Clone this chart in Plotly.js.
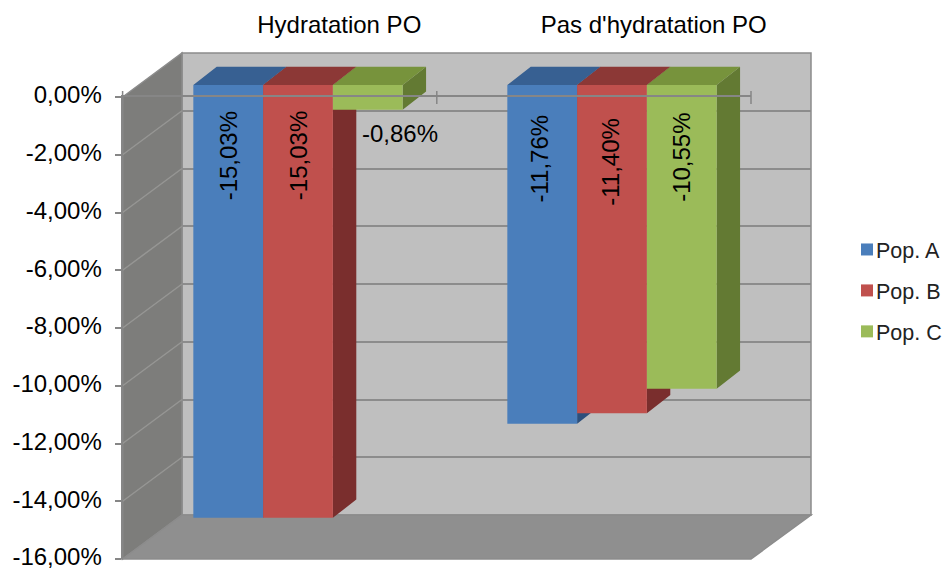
<!DOCTYPE html>
<html>
<head>
<meta charset="utf-8">
<script src="https://cdn.plot.ly/plotly-3.0.1.min.js"></script>
<style>html,body{margin:0;padding:0;background:#fff;overflow:hidden}#chart{width:945px;height:570px}</style>
</head>
<body>
<div id="chart"></div>
<script>
// ---- data ----
const categories = ["Hydratation PO", "Pas d'hydratation PO"];
const popA = [-15.03, -11.76];
const popB = [-15.03, -11.40];
const popC = [-0.86, -10.55];
const seriesNames = ["Pop. A", "Pop. B", "Pop. C"];
const yTickValues = [0, -2, -4, -6, -8, -10, -12, -14, -16];
const yTickLabels = ["0,00%", "-2,00%", "-4,00%", "-6,00%", "-8,00%", "-10,00%", "-12,00%", "-14,00%", "-16,00%"];

// ---- styles ----
const W = 945, H = 570;
const FONT = '"Liberation Sans", Arial, sans-serif';
const FS = 24;
const frontColors = ["#4A7EBB", "#C0504D", "#9BBB59"];
const topColors = ["#376092", "#8C3836", "#77933C"];
const sideColors = ["#2C4F7C", "#7A2E2D", "#637A33"];
const series = [popA, popB, popC];

// ---- oblique projection geometry (pixels) ----
const px = x => x / W, py = y => 1 - y / H;
const front = {l: 122.6, r: 751, zero: 97, bottom: 559};
const back = {l: 182, r: 811, zero: 53, bottom: 515};
const barPlane = {l: 141, r: 769, zero: 85, perUnit: 28.8};
const depthX = 23.4, depthY = 18.3;
const catPx = (barPlane.r - barPlane.l) / 2;
const dX = depthX / catPx, dY = depthY / barPlane.perUnit;
const slot = 2 / 9;

const frontY = v => front.zero + (front.bottom - front.zero) * (v / -16);
const backY = v => back.zero + (back.bottom - back.zero) * (v / -16);

// ---- depth faces of each bar, derived from the values ----
const faceTraces = [];
series.forEach((vals, s) => {
  const sx = [], sy = [], tx = [], ty = [];
  vals.forEach((v, c) => {
    const x0 = c + (s - 1.5) * slot, x1 = x0 + slot;
    sx.push(x1, x1 + dX, x1 + dX, x1, null);
    sy.push(0, dY, v + dY, v, null);
    tx.push(x0, x0 + dX, x1 + dX, x1, null);
    ty.push(0, dY, dY, 0, null);
  });
  [[sx, sy, sideColors[s], "side"], [tx, ty, topColors[s], "top"]].forEach(f => faceTraces.push({
    type: "scatter", mode: "lines", x: f[0], y: f[1], xaxis: "x2", yaxis: "y2",
    fill: "toself", fillcolor: f[2], line: {width: 0, color: f[2]},
    name: seriesNames[s] + " " + f[3], showlegend: false, hoverinfo: "skip"
  }));
});

const barTraces = series.map((vals, s) => ({
  type: "bar", x: categories, y: vals, name: seriesNames[s], xaxis: "x3", yaxis: "y3",
  marker: {color: frontColors[s], line: {width: 0}}, legendgroup: seriesNames[s]
}));

// Mark-free traces that make Plotly draw the back-wall and front axes.
const axisHolder = (xa, ya) => ({type: "scatter", mode: "none", x: [0, 1], y: [0, 0], xaxis: xa, yaxis: ya,
  showlegend: false, hoverinfo: "skip"});

// ---- value labels ----
const fmt = v => v.toFixed(2).replace(".", ",") + "%";
const labelSpots = [
  [{dx: 0, y: -2.47, a: -90}, {dx: -0.01, y: -2.55, a: -90}],
  [{dx: 0, y: -2.47, a: -90}, {dx: -0.005, y: -2.65, a: -90}],
  [{dx: 0.103, y: -1.7, a: 0}, {dx: -0.003, y: -2.5, a: -90}]
];
const annotations = [];
series.forEach((vals, s) => vals.forEach((v, c) => {
  const sp = labelSpots[s][c];
  annotations.push({
    text: fmt(v), x: c + (s - 1) * slot + sp.dx, y: sp.y, xref: "x3", yref: "y3",
    showarrow: false, textangle: sp.a, xanchor: "center", yanchor: "middle",
    font: {family: FONT, size: FS, color: "#000"}
  });
}));

// ---- walls and floor ----
const poly = pts => "M" + pts.map(p => px(p[0]) + "," + py(p[1])).join("L") + "Z";
const wall = (pts, fill) => ({type: "path", xref: "paper", yref: "paper", layer: "below",
  path: poly(pts), fillcolor: fill, line: {color: "#8C8C8C", width: 1.5}});
const seg = (x0, y0, x1, y1, color, width, layer) => ({type: "line", xref: "paper", yref: "paper", layer,
  x0: px(x0), y0: py(y0), x1: px(x1), y1: py(y1), line: {color, width}});

const shapes = [
  wall([[back.l, back.zero], [back.r, back.zero], [back.r, back.bottom], [back.l, back.bottom]], "#BFBFBF"),
  wall([[front.l, front.zero], [back.l, back.zero], [back.l, back.bottom], [front.l, front.bottom]], "#7D7D7B"),
  wall([[front.l, front.bottom], [back.l, back.bottom], [back.r, back.bottom], [front.r, front.bottom]], "#8F8F8F")
];
yTickValues.slice(1, -1).forEach(v => shapes.push(seg(front.l, frontY(v), back.l, backY(v), "#969694", 1.5, "below")));
[-0.5, 0.5, 1.5].forEach(k => {
  const x = front.l + (k + 0.5) * (front.r - front.l) / 2;
  shapes.push(seg(x, front.zero - 6, x, front.zero + 7, "#868686", 1.5, "above"));
});

const hidden = {visible: false, fixedrange: true};
const layout = {
  width: W, height: H, margin: {l: 0, r: 0, t: 0, b: 0, pad: 0, autoexpand: false},
  paper_bgcolor: "#fff", plot_bgcolor: "rgba(0,0,0,0)",
  font: {family: FONT, size: FS, color: "#000"},
  barmode: "group", bargap: 1 / 3, bargroupgap: 0, showlegend: true,
  hovermode: false,
  legend: {x: px(836), xanchor: "left", y: py(229), yanchor: "top", bgcolor: "rgba(0,0,0,0)",
    font: {family: FONT, size: 21.5, color: "#222"}, tracegroupgap: 10, itemclick: false},
  // back wall: gridlines and category labels
  xaxis: {domain: [px(back.l), px(back.r)], range: [-0.5, 1.5], anchor: "y", side: "top",
    tickmode: "array", tickvals: [0, 1], ticktext: categories, ticks: "", showgrid: false, zeroline: false,
    ticklabelstandoff: 14, tickfont: {family: FONT, size: FS, color: "#000"}},
  yaxis: {domain: [py(back.bottom), py(back.zero)], range: [-16, 0], anchor: "x", tickmode: "array",
    tickvals: yTickValues, showticklabels: false, ticks: "", showgrid: true, gridcolor: "#8C8C8C", gridwidth: 2, zeroline: false},
  // bar depth faces
  xaxis2: Object.assign({domain: [px(barPlane.l), px(barPlane.r)], range: [-0.5, 1.5], anchor: "y2"}, hidden),
  yaxis2: Object.assign({domain: [0, 1], range: [-(H - barPlane.zero) / barPlane.perUnit, barPlane.zero / barPlane.perUnit], anchor: "x2"}, hidden),
  // bar fronts
  xaxis3: Object.assign({domain: [px(barPlane.l), px(barPlane.r)], range: [-0.5, 1.5], type: "category", categoryarray: categories, anchor: "y3"}, hidden),
  yaxis3: Object.assign({domain: [0, 1], range: [-(H - barPlane.zero) / barPlane.perUnit, barPlane.zero / barPlane.perUnit], anchor: "x3"}, hidden),
  // front value axis
  xaxis4: {domain: [px(front.l), px(front.r)], range: [-0.5, 1.5], anchor: "y4", side: "top",
    showline: true, linecolor: "#868686", linewidth: 2, ticks: "", showticklabels: false, showgrid: false, zeroline: false},
  yaxis4: {domain: [py(front.bottom), py(front.zero)], range: [-16, 0], anchor: "x4", tickmode: "array",
    tickvals: yTickValues, ticktext: yTickLabels, showline: true, linecolor: "#868686", linewidth: 2,
    ticks: "outside", ticklen: 6, tickwidth: 2, tickcolor: "#868686", ticklabelstandoff: 8, ticklabeloverflow: "allow",
    ticklabelshift: -2, showgrid: false, zeroline: false, tickfont: {family: FONT, size: FS, color: "#000"}},
  shapes, annotations
};

Plotly.newPlot("chart", [axisHolder("x", "y"), ...faceTraces, ...barTraces, axisHolder("x4", "y4")], layout,
  {displayModeBar: false}).then(gd => {
  // Plotly fixes the swatch-to-text distance; the reference's swatches sit closer to their text.
  gd.querySelectorAll(".legend .legendpoints path").forEach(p => {
    p.setAttribute("transform", "translate(31,0)");
  });
});
</script>
</body>
</html>
